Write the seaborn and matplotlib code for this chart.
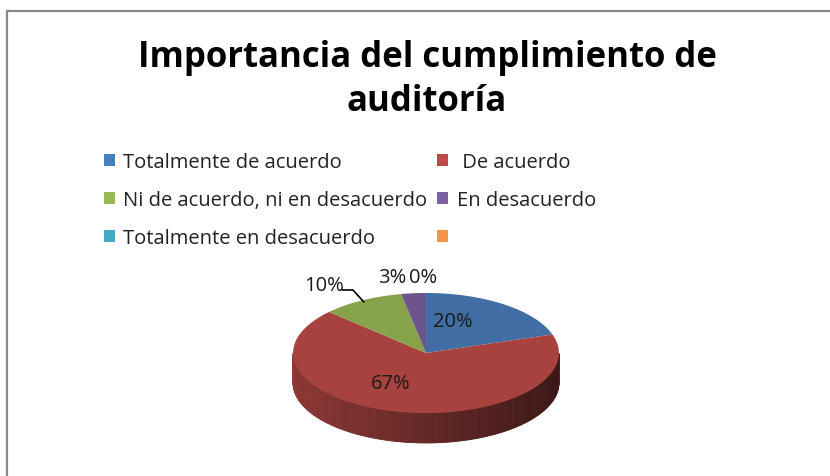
import matplotlib
matplotlib.use("Agg")
import matplotlib.pyplot as plt
import seaborn as sns
import numpy as np
from matplotlib.patches import Patch, Rectangle
from matplotlib.colors import to_rgb

# data
categories = ["Totalmente de acuerdo", " De acuerdo", "Ni de acuerdo, ni en desacuerdo",
              "En desacuerdo", "Totalmente en desacuerdo", ""]
values = [20, 67, 10, 3, 0]
pct_labels = ["20%", "67%", "10%", "3%", "0%"]
colors = ["#4A7EBB", "#BE4B48", "#98B954", "#7D60A0", "#46AAC5", "#F69545"]

sns.set_theme(style="white")
plt.rcParams["font.family"] = ["Open Sans", "DejaVu Sans"]

fig = plt.figure(figsize=(8.3, 4.77), dpi=100)
fig.patch.set_facecolor("white")

# chart frame (right and bottom edges fall outside the picture)
fig.add_artist(Rectangle((7 / 830, -0.1), 1.0, 1.1 - 12 / 477, transform=fig.transFigure,
                         fill=False, edgecolor="#878787", lw=1.6))

fig.text(427 / 830, 1 - 80 / 477, "Importancia del cumplimiento de\nauditoría",
         ha="center", va="center", fontsize=25, fontweight="bold", color="black",
         linespacing=1.28)

# legend, filled row by row like the original
handles = [Patch(facecolor=c, edgecolor="none") for c in colors]
order = [0, 2, 4, 1, 3, 5]
fig.legend([handles[i] for i in order], [categories[i] for i in order], ncol=2,
           loc="upper left", bbox_to_anchor=(94 / 830, 1 - 143 / 477), frameon=False,
           fontsize=14.5, handlelength=0.55, handleheight=0.55, handletextpad=0.4,
           columnspacing=0.5, labelspacing=0.9, borderpad=0, labelcolor="#222222")

# pie
ax = fig.add_axes([200 / 830, 17 / 477, 452 / 830, 210 / 477])
top_colors = [tuple(0.88 * v for v in to_rgb(c)) for c in colors[:len(values)]]
wedges, _ = ax.pie(values, colors=top_colors, startangle=90, counterclock=False,
                   radius=1, wedgeprops=dict(linewidth=0))
for w in wedges:
    w.set_zorder(3)
ax.set_aspect("auto")
ax.set_xlim(-1.7, 1.7)
ax.set_ylim(-1.767, 1.733)
ax.axis("off")

# side wall of the 3D disc
depth = 0.5
for w, c in zip(wedges, top_colors):
    t = np.radians(np.linspace(w.theta1, w.theta2, 240))
    for a, b in zip(t[:-1], t[1:]):
        if np.sin((a + b) / 2) >= 0:
            continue
        xm = np.cos((a + b) / 2)
        shade = (0.53 - 0.21 * xm) / 0.88
        col = tuple(min(1, shade * v) for v in c)
        xs = [np.cos(a), np.cos(b), np.cos(b), np.cos(a)]
        ys = [np.sin(a), np.sin(b), np.sin(b) - depth, np.sin(a) - depth]
        ax.fill(xs, ys, color=col, lw=0.6, ec=col, zorder=1)

# percentage labels
outer_pos = {2: (-0.77, 1.133, "center"), 3: (-0.145, 1.267, "right"),
             4: (-0.13, 1.267, "left")}
for i, (w, lab) in enumerate(zip(wedges, pct_labels)):
    mid = np.radians((w.theta1 + w.theta2) / 2)
    if i in outer_pos:
        x, y, ha = outer_pos[i]
    else:
        x, y, ha = 0.58 * np.cos(mid) - 0.14, 0.58 * np.sin(mid) + 0.07, "center"
    ax.text(x, y, lab, ha=ha, va="center", fontsize=14.5, color="#1a1a1a", zorder=5)

# leader line for the small green slice
mid = np.radians((wedges[2].theta1 + wedges[2].theta2) / 2)
ax.plot([-0.63, -0.55, 0.97 * np.cos(mid)], [1.05, 1.05, 0.97 * np.sin(mid)],
        color="black", lw=1.2, zorder=5)

fig.savefig("out.png", dpi=100, facecolor="white")
